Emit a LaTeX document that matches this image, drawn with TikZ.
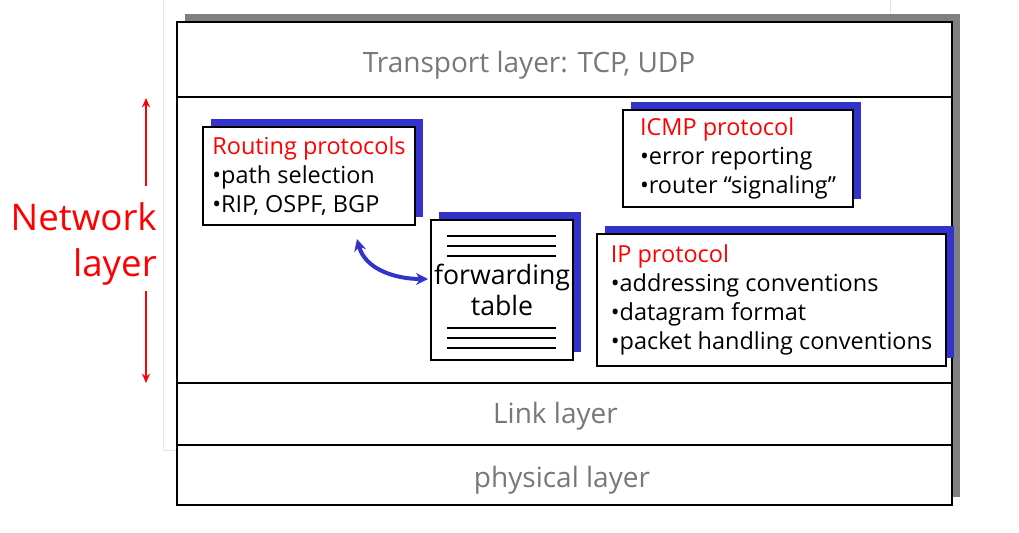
\documentclass[tikz,border=0pt]{standalone}
\usepackage{fontspec}
\setmainfont{Open Sans}
\usepackage{tikz}
\usetikzlibrary{arrows.meta,shadows}
\usetikzlibrary{positioning}
\definecolor{shadowblue}{RGB}{51,51,204}
\definecolor{shadowgray}{RGB}{128,128,128}
\definecolor{layergray}{RGB}{120,120,120}

\begin{document}
\begin{tikzpicture}[x=0.75pt, y=-0.75pt,
    layerband/.style = {shape=rectangle, draw, line width=1.5pt,
      minimum width=581.25pt, inner sep=0pt, outer sep=0pt},
    layertext/.style = {text=layergray, font=\fontsize{21}{25}\selectfont},
    protobox/.style = {shape=rectangle, draw, line width=1.5pt, fill=white,
      align=left, font=\fontsize{17.6}{21.6}\selectfont,
      drop shadow={shadow xshift=6pt, shadow yshift=6pt,
        fill=shadowblue, opacity=1}},
    tablerule/.style = {line width=1.5pt},
    netarrow/.style = {red, line width=1.5pt, -{Stealth[length=7pt,width=6pt]}},
    lookup/.style = {shadowblue, line width=3pt,
      {Stealth[length=9pt,width=9pt]}-{Stealth[length=9pt,width=9pt]}}]
  \useasboundingbox (0,0) rectangle (1019,532);
  % faint edge of the slide underneath
  \draw[gray!20, line width=0.75pt] (163,0) -- (163,450) -- (890,450) -- (890,0);
  % protocol stack
  \fill[shadowgray] (185,14) rectangle (960,497);
  \node[layerband, fill=white, minimum height=56.25pt] (transport) at (564.5,59.5) {};
  \node[layerband, fill=white, minimum height=214.5pt, below=0pt of transport] (network) {};
  \node[layerband, fill=white, minimum height=46.5pt, below=0pt of network] (link) {};
  \node[layerband, fill=white, minimum height=45pt, below=0pt of link] (phys) {};
  \node[layertext] (transportname) at (529,65) {Transport layer: TCP, UDP};
  \node[layertext] (linkname) at (555.5,416) {Link layer};
  \node[layertext] (physname) at (562,480) {physical layer};

  % network layer label
  \node[text=red, align=right, anchor=east, inner sep=0pt,
    font=\fontsize{27.5}{34}\selectfont] (netname) at (157,244) {Network\\layer};
  \coordinate (nettop) at (146,98);
  \coordinate (netbot) at (146,383);
  \draw[netarrow] (netname.north east -| nettop) ++(0,-17) -- (nettop);
  \draw[netarrow] (netname.south east -| netbot) ++(0,6) -- (netbot);

  % protocols
  \node[protobox, minimum width=159pt, minimum height=73.5pt] (routing) at (309,176)
    {{\color{red}Routing protocols}\\•path selection\\•RIP, OSPF, BGP};
  \node[protobox, minimum width=172.5pt, minimum height=72.75pt] (icmp) at (738,158.5)
    {{\color{red}ICMP protocol}\\•error reporting\\•router “signaling”};
  \node[protobox, minimum width=261.75pt, minimum height=99pt] (ip) at (771.5,300)
    {{\color{red}IP protocol}\\•addressing conventions\\•datagram format\\•packet handling conventions};
  \node[protobox, align=center, minimum width=106.5pt, minimum height=105pt,
    inner xsep=1pt, font=\fontsize{20}{23}\selectfont] (fwd) at (502,290) {forwarding\\table};
  \foreach \dy in {17,27,37} {
    \draw[tablerule] ([shift={(17,\dy)}]fwd.north west) -- ([shift={(-18,\dy)}]fwd.north east);
  }
  \foreach \dy in {-33,-23,-13} {
    \draw[tablerule] ([shift={(17,\dy)}]fwd.south west) -- ([shift={(-18,\dy)}]fwd.south east);
  }
  \coordinate (lookupend) at ([shift={(48,13)}]routing.south);
  \draw[lookup] (lookupend) to[out=-75, in=180] ([shift={(-2,-11)}]fwd.west);
\end{tikzpicture}
\end{document}
